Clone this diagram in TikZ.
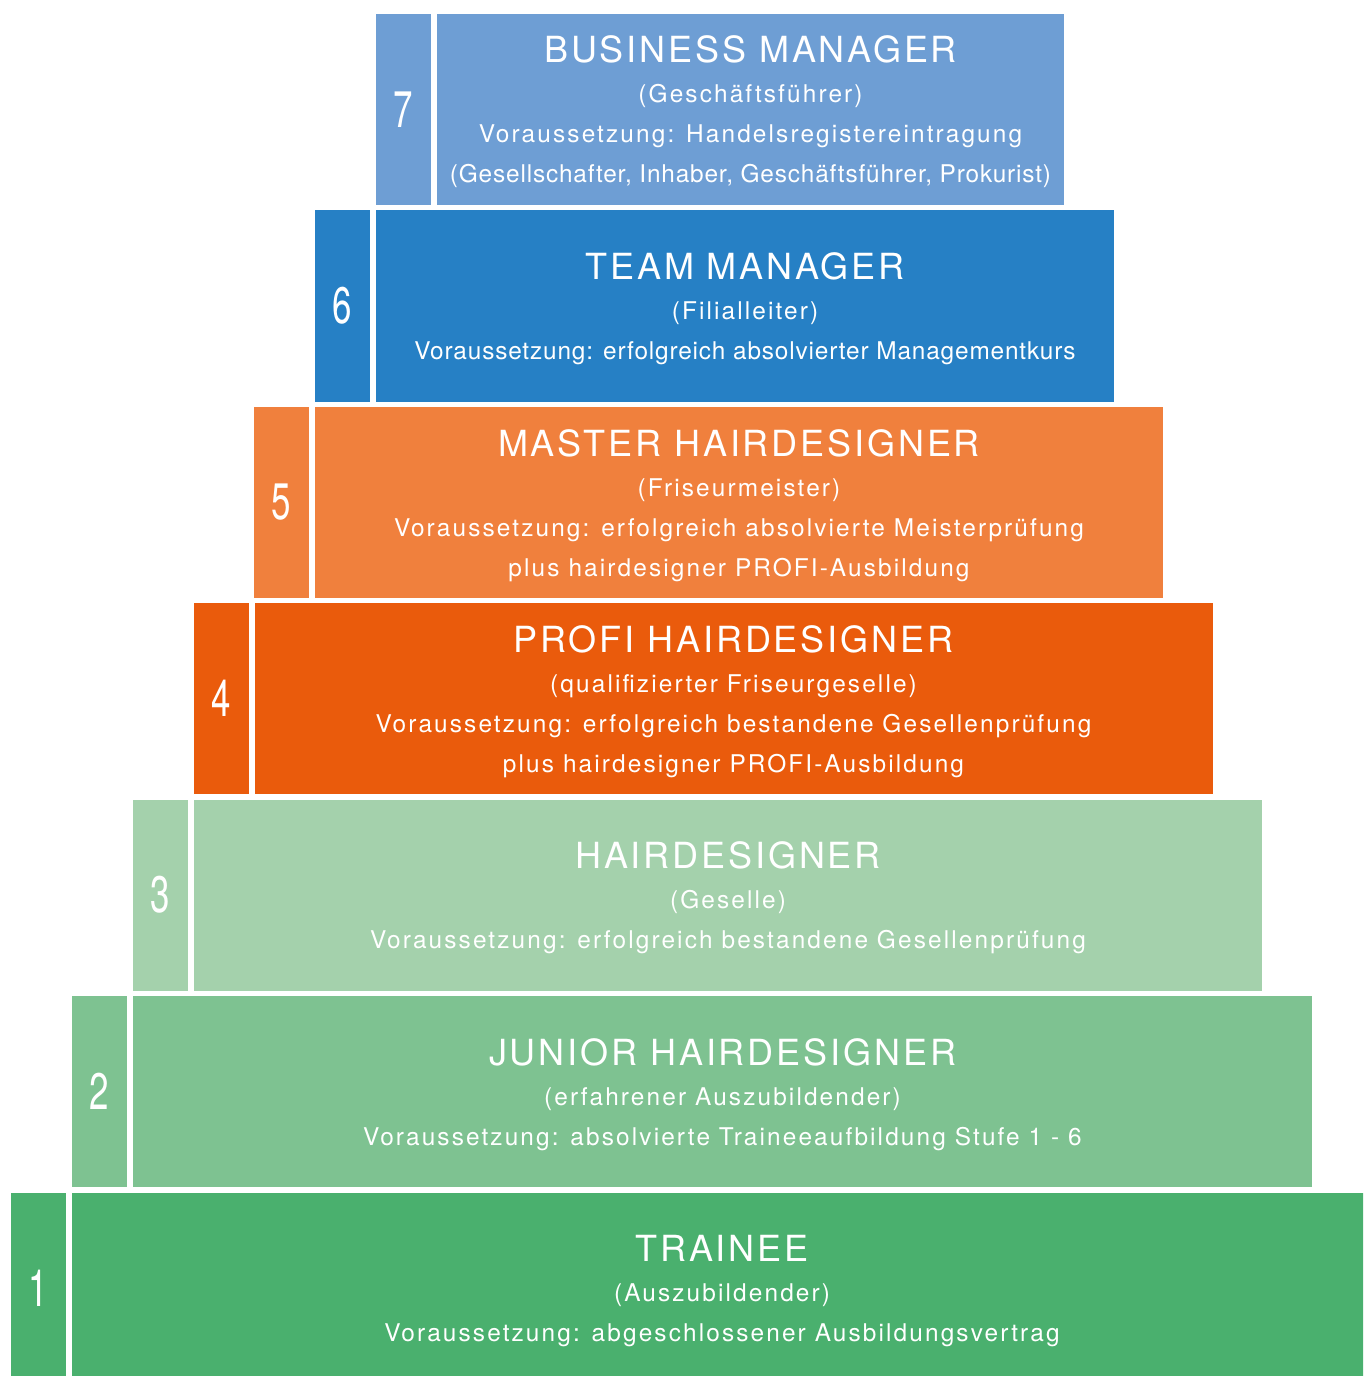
\documentclass[tikz,border=0pt]{standalone}
\usepackage{fontspec}
\setmainfont{TeX Gyre Heros}
\newfontfamily\numfont[FakeStretch=0.68]{TeX Gyre Heros}
\newfontfamily\ttlfont[LetterSpace=8]{TeX Gyre Heros}
\newfontfamily\subfont[LetterSpace=8.7]{TeX Gyre Heros}
\newfontfamily\subtightfont[LetterSpace=3.4]{TeX Gyre Heros}
\definecolor{c7}{HTML}{6E9ED4}
\definecolor{c6}{HTML}{2680C5}
\definecolor{c5}{HTML}{F0803D}
\definecolor{c4}{HTML}{EA5B0C}
\definecolor{c3}{HTML}{A4D1AC}
\definecolor{c2}{HTML}{7EC291}
\definecolor{c1}{HTML}{4AB06E}
\tikzset{
  box/.style={draw=none, inner sep=0pt, outer sep=0pt, minimum height=143.25pt},
  numbox/.style={box, minimum width=41.25pt, text=white, font=\numfont\fontsize{38.5}{40}\selectfont},
  ttl/.style={anchor=base, inner sep=0pt, text=white, font=\ttlfont\fontsize{27}{30}\selectfont},
  sub/.style={anchor=base, inner sep=0pt, text=white, font=\subfont\fontsize{18.3}{22}\selectfont},
  subt/.style={anchor=base, inner sep=0pt, text=white, font=\subtightfont\fontsize{18.3}{22}\selectfont},
}
\begin{document}
\begin{tikzpicture}[x=0.75pt, y=-0.75pt]
\useasboundingbox (0,0) rectangle (1363,1376);
\clip (0,0) rectangle (1363,1376);
\fill[white] (0,0) rectangle (1363,1376);
% level 7
\node[numbox, fill=c7] (n7) at (403.5,109.5) {7};
\node[box, fill=c7, minimum width=470.25pt] (m7) at (750.5,109.5) {};
\node[ttl] (t7a) at (750.5,63) {BUSINESS MANAGER};
\node[sub] (t7b) at (750.5,103) {(Geschäftsführer)};
\node[sub] (t7c) at (750.5,143) {Voraussetzung: Handelsregistereintragung};
\node[subt] (t7d) at (750.5,183) {(Gesellschafter, Inhaber, Geschäftsführer, Prokurist)};
% level 6
\node[numbox, fill=c6] (n6) at (342.5,306) {6};
\node[box, fill=c6, minimum width=553.5pt] (m6) at (745,306) {};
\node[ttl] (t6a) at (745,279.5) {TEAM MANAGER};
\node[sub] (t6b) at (745,319.5) {(Filialleiter)};
\node[subt] (t6c) at (745,359.5) {Voraussetzung: erfolgreich absolvierter Managementkurs};
% level 5
\node[numbox, fill=c5] (n5) at (281.5,502.5) {5};
\node[box, fill=c5, minimum width=636pt] (m5) at (739,502.5) {};
\node[ttl] (t5a) at (739,456) {MASTER HAIRDESIGNER};
\node[sub] (t5b) at (739,496) {(Friseurmeister)};
\node[sub] (t5c) at (739,536) {Voraussetzung: erfolgreich absolvierte Meisterprüfung};
\node[sub] (t5d) at (739,576) {plus hairdesigner PROFI-Ausbildung};
% level 4
\node[numbox, fill=c4] (n4) at (221,698.5) {4};
\node[box, fill=c4, minimum width=718.5pt] (m4) at (733.5,698.5) {};
\node[ttl] (t4a) at (733.5,652) {PROFI HAIRDESIGNER};
\node[sub] (t4b) at (733.5,692) {(qualifizierter Friseurgeselle)};
\node[sub] (t4c) at (733.5,732) {Voraussetzung: erfolgreich bestandene Gesellenprüfung};
\node[sub] (t4d) at (733.5,772) {plus hairdesigner PROFI-Ausbildung};
% level 3
\node[numbox, fill=c3] (n3) at (160.5,895) {3};
\node[box, fill=c3, minimum width=801pt] (m3) at (728,895) {};
\node[ttl] (t3a) at (728,868.5) {HAIRDESIGNER};
\node[sub] (t3b) at (728,908.5) {(Geselle)};
\node[sub] (t3c) at (728,948.5) {Voraussetzung: erfolgreich bestandene Gesellenprüfung};
% level 2
\node[numbox, fill=c2] (n2) at (99.5,1091.5) {2};
\node[box, fill=c2, minimum width=884.25pt] (m2) at (722.5,1091.5) {};
\node[ttl] (t2a) at (722.5,1065) {JUNIOR HAIRDESIGNER};
\node[sub] (t2b) at (722.5,1105) {(erfahrener Auszubildender)};
\node[sub] (t2c) at (722.5,1145) {Voraussetzung: absolvierte Traineeaufbildung Stufe 1 - 6};
% level 1
\node[numbox, fill=c1] (n1) at (38.5,1288) {1};
\node[box, fill=c1, minimum width=975pt] (m1) at (722,1288) {};
\node[ttl] (t1a) at (722,1261.5) {TRAINEE};
\node[sub] (t1b) at (722,1301.5) {(Auszubildender)};
\node[sub] (t1c) at (722,1341.5) {Voraussetzung: abgeschlossener Ausbildungsvertrag};
\end{tikzpicture}
\end{document}
